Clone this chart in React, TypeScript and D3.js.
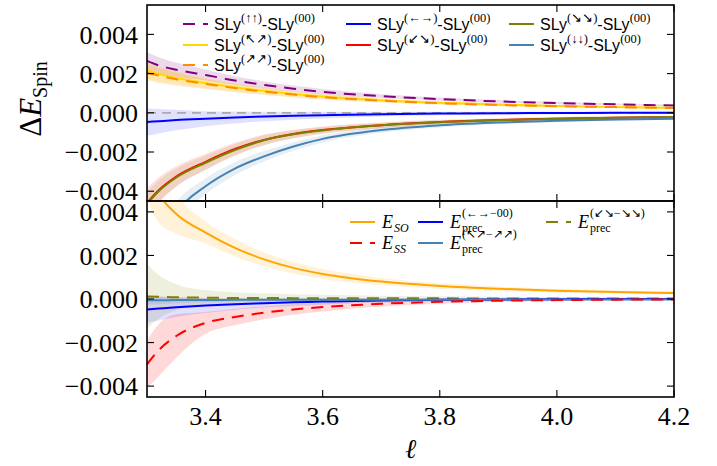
import React from "react";
import * as d3 from "d3";

// shared ℓ grid
const ELL = [3.3, 3.32, 3.35, 3.4, 3.45, 3.5, 3.55, 3.6, 3.7, 3.8, 3.9, 4.0, 4.1, 4.2];

// ---- top panel values (units of 1e-3) ----
const upUp = [2.65, 2.42, 2.2, 1.93, 1.65, 1.42, 1.23, 1.07, 0.85, 0.7, 0.58, 0.5, 0.43, 0.37];
const upUpErr = [0.45, 0.42, 0.36, 0.28, 0.22, 0.18, 0.16, 0.14, 0.1, 0.08, 0.07, 0.06, 0.05, 0.05];
const nwNe = [2.15, 1.98, 1.78, 1.52, 1.3, 1.12, 0.96, 0.83, 0.64, 0.51, 0.42, 0.35, 0.3, 0.26];
const nwNeErr = [0.42, 0.4, 0.34, 0.27, 0.22, 0.18, 0.15, 0.13, 0.1, 0.08, 0.07, 0.06, 0.05, 0.05];
const neNe = [2.05, 1.9, 1.71, 1.47, 1.26, 1.08, 0.93, 0.8, 0.62, 0.49, 0.4, 0.34, 0.29, 0.25];
const neNeErr = [0.4, 0.38, 0.33, 0.26, 0.21, 0.17, 0.15, 0.13, 0.1, 0.08, 0.07, 0.06, 0.05, 0.05];
const lr = [-0.47, -0.43, -0.37, -0.3, -0.24, -0.19, -0.15, -0.12, -0.07, -0.04, -0.02, -0.01, 0.0, 0.0];
const lrErr = [0.7, 0.62, 0.52, 0.38, 0.3, 0.24, 0.2, 0.17, 0.12, 0.09, 0.07, 0.06, 0.05, 0.05];
const swSe = [-4.6, -3.95, -3.25, -2.5, -1.85, -1.38, -1.08, -0.88, -0.63, -0.47, -0.37, -0.3, -0.25, -0.21];
const swSeErr = [0.75, 0.65, 0.52, 0.4, 0.32, 0.27, 0.22, 0.18, 0.14, 0.11, 0.09, 0.08, 0.07, 0.06];
const seSe = [-4.65, -4.0, -3.3, -2.55, -1.9, -1.4, -1.1, -0.9, -0.64, -0.48, -0.38, -0.3, -0.25, -0.21];
const seSeErr = [0.6, 0.55, 0.45, 0.36, 0.3, 0.25, 0.2, 0.17, 0.13, 0.1, 0.08, 0.07, 0.06, 0.05];
const dnDn = [-7.8, -6.5, -5.05, -3.75, -2.85, -2.22, -1.72, -1.33, -0.88, -0.64, -0.5, -0.4, -0.34, -0.3];
const dnDnErr = [0.6, 0.55, 0.5, 0.4, 0.33, 0.27, 0.22, 0.18, 0.14, 0.11, 0.09, 0.08, 0.07, 0.06];

// ---- bottom panel values (units of 1e-3) ----
const eSO = [5.8, 4.8, 3.9, 3.05, 2.35, 1.82, 1.43, 1.15, 0.8, 0.6, 0.47, 0.38, 0.32, 0.27];
const eSOErr = [1.2, 1.3, 0.9, 0.5, 0.4, 0.32, 0.27, 0.23, 0.17, 0.13, 0.1, 0.08, 0.07, 0.06];
const eSS = [-3.0, -2.35, -1.7, -1.1, -0.83, -0.63, -0.48, -0.37, -0.22, -0.13, -0.08, -0.05, -0.03, -0.02];
const eSSErr = [1.1, 1.2, 1.0, 0.5, 0.38, 0.3, 0.24, 0.2, 0.13, 0.09, 0.06, 0.05, 0.04, 0.03];
const ePrecLR = [-0.48, -0.44, -0.38, -0.3, -0.24, -0.19, -0.15, -0.12, -0.07, -0.04, -0.02, -0.01, 0.0, 0.0];
const ePrecLRErr = [0.62, 0.55, 0.45, 0.34, 0.26, 0.2, 0.17, 0.14, 0.1, 0.08, 0.06, 0.05, 0.04, 0.04];
const ePrecNW = [-0.06, -0.06, -0.05, -0.05, -0.04, -0.04, -0.04, -0.03, -0.03, -0.03, -0.02, -0.02, -0.02, -0.02];
const ePrecNWErr = [0.2, 0.18, 0.15, 0.1, 0.08, 0.07, 0.06, 0.05, 0.04, 0.04, 0.03, 0.03, 0.03, 0.03];
const ePrecSW = [0.12, 0.1, 0.08, 0.06, 0.05, 0.05, 0.04, 0.04, 0.03, 0.03, 0.02, 0.02, 0.02, 0.02];
const ePrecSWErr = [1.5, 1.0, 0.6, 0.35, 0.26, 0.21, 0.18, 0.15, 0.12, 0.1, 0.08, 0.07, 0.06, 0.05];

// axis ticks
const xTicks = [3.4, 3.6, 3.8, 4.0, 4.2];
const yTicks = [-0.004, -0.002, 0.0, 0.002, 0.004];

const topLegend = [
  { sup: "(↑↑)", color: "#800080", dash: true, col: 0, row: 0 },
  { sup: "(↖↗)", color: "#FFD700", dash: false, col: 0, row: 1 },
  { sup: "(↗↗)", color: "#FF8C00", dash: true, col: 0, row: 2 },
  { sup: "(←→)", color: "#0000FF", dash: false, col: 1, row: 0 },
  { sup: "(↙↘)", color: "#FF0000", dash: false, col: 1, row: 1 },
  { sup: "(↘↘)", color: "#808000", dash: false, col: 2, row: 0 },
  { sup: "(↓↓)", color: "#4682B4", dash: false, col: 2, row: 1 },
];

const botLegend = [
  { sub: "SO", sup: "", color: "#FFA500", dash: false, col: 0, row: 0 },
  { sub: "SS", sup: "", color: "#FF0000", dash: true, col: 0, row: 1 },
  { sub: "prec", sup: "(←→−00)", color: "#0000FF", dash: false, col: 1, row: 0 },
  { sub: "prec", sup: "(↖↗−↗↗)", color: "#4682B4", dash: false, col: 1, row: 1 },
  { sub: "prec", sup: "(↙↘−↘↘)", color: "#808000", dash: true, col: 2, row: 0 },
];

const W = 717, H = 466;
const L = 147, R = 674;
const T1 = 5, B1 = 201, T2 = 201, B2 = 397;

const x = d3.scaleLinear().domain([3.3, 4.2]).range([L, R]);
const yTop = d3.scaleLinear().domain([-0.0045, 0.0055]).range([B1, T1]);
const yBot = d3.scaleLinear().domain([-0.0045, 0.0045]).range([B2, T2]);

const SERIF = "Liberation Serif, Times New Roman, serif";
const SANS = "Liberation Sans, Arial, sans-serif";
const DASH = "12,8";

type S = { mid: number[]; err: number[]; color: string; dash?: boolean; bandOp: number };

const topSeries: S[] = [
  { mid: upUp, err: upUpErr, color: "#800080", dash: true, bandOp: 0.15 },
  { mid: nwNe, err: nwNeErr, color: "#FFD700", bandOp: 0.2 },
  { mid: neNe, err: neNeErr, color: "#FF8C00", dash: true, bandOp: 0.15 },
  { mid: lr, err: lrErr, color: "#0000FF", bandOp: 0.12 },
  { mid: swSe, err: swSeErr, color: "#FF0000", bandOp: 0.13 },
  { mid: seSe, err: seSeErr, color: "#808000", bandOp: 0.13 },
  { mid: dnDn, err: dnDnErr, color: "#4682B4", bandOp: 0.13 },
];

const botSeries: S[] = [
  { mid: eSO, err: eSOErr, color: "#FFA500", bandOp: 0.15 },
  { mid: ePrecSW, err: ePrecSWErr, color: "#808000", dash: true, bandOp: 0.13 },
  { mid: ePrecLR, err: ePrecLRErr, color: "#0000FF", bandOp: 0.12 },
  { mid: ePrecNW, err: ePrecNWErr, color: "#4682B4", bandOp: 0.15 },
  { mid: eSS, err: eSSErr, color: "#FF0000", dash: true, bandOp: 0.15 },
];

function Panel({ series, y, top, bottom, id, zeroLine }: { series: S[]; y: d3.ScaleLinear<number, number>; top: number; bottom: number; id: string; zeroLine?: boolean }) {
  const line = (m: number[]) =>
    d3.line<number>().x((_, i) => x(ELL[i])).y((d) => y(d * 1e-3)).curve(d3.curveMonotoneX)(m) || "";
  const area = (m: number[], e: number[]) =>
    d3
      .area<number>()
      .x((_, i) => x(ELL[i]))
      .y0((d, i) => y((d - e[i]) * 1e-3))
      .y1((d, i) => y((d + e[i]) * 1e-3))
      .curve(d3.curveMonotoneX)(m) || "";
  return (
    <g>
      <defs>
        <clipPath id={id}>
          <rect x={L} y={top} width={R - L} height={bottom - top} />
        </clipPath>
      </defs>
      <g clipPath={`url(#${id})`}>
        {series.map((s, i) => (
          <path key={"a" + i} d={area(s.mid, s.err)} fill={s.color} fillOpacity={s.bandOp} stroke="none" />
        ))}
        {zeroLine && (
          <line x1={L} x2={R} y1={y(0)} y2={y(0)} stroke="#aaaaaa" strokeWidth={1.8} strokeDasharray="9,6" />
        )}
        {series.map((s, i) => (
          <path key={"l" + i} d={line(s.mid)} fill="none" stroke={s.color} strokeWidth={2} strokeDasharray={s.dash ? DASH : undefined} />
        ))}
      </g>
      {xTicks.map((t) => (
        <g key={"xt" + t}>
          <line x1={x(t)} x2={x(t)} y1={bottom} y2={bottom - 7} stroke="#000" strokeWidth={1.1} />
          <line x1={x(t)} x2={x(t)} y1={top} y2={top + 7} stroke="#000" strokeWidth={1.1} />
        </g>
      ))}
      {yTicks.map((t) => (
        <g key={"yt" + t}>
          <line x1={L} x2={L + 7} y1={y(t)} y2={y(t)} stroke="#000" strokeWidth={1.1} />
          <line x1={R} x2={R - 7} y1={y(t)} y2={y(t)} stroke="#000" strokeWidth={1.1} />
          <text x={138} y={y(t)} dy="0.35em" textAnchor="end" fontFamily={SERIF} fontSize={26}>
            {d3.format(".3f")(t).replace("-", "\u2212")}
          </text>
        </g>
      ))}
      <rect x={L} y={top} width={R - L} height={bottom - top} fill="none" stroke="#000" strokeWidth={1.6} />
    </g>
  );
}

function Handle({ x0, yy, color, dash }: { x0: number; yy: number; color: string; dash?: boolean }) {
  return <line x1={x0} x2={x0 + 25} y1={yy} y2={yy} stroke={color} strokeWidth={2} strokeDasharray={dash ? DASH : undefined} />;
}

export default function App() {
  const colX = [183, 346, 509];
  const rowY = [24, 45, 65];
  const bColX = [350, 418, 546];
  const bRow = [222, 243];
  return (
    <svg width={W} height={H} style={{ position: "absolute", left: 0, top: 0, background: "#fff" }}>
      <rect width={W} height={H} fill="#fff" />
      <Panel series={topSeries} y={yTop} top={T1} bottom={B1} id="clipTop" zeroLine />
      <Panel series={botSeries} y={yBot} top={T2} bottom={B2} id="clipBot" />

      {xTicks.map((t) => (
        <text key={"xl" + t} x={x(t)} y={425} textAnchor="middle" fontFamily={SERIF} fontSize={26}>
          {t.toFixed(1)}
        </text>
      ))}
      <text x={(L + R) / 2} y={458} textAnchor="middle" fontFamily={SERIF} fontStyle="italic" fontSize={27}>
        ℓ
      </text>
      <text transform="translate(41,99) rotate(-90)" textAnchor="middle" fontFamily={SERIF} fontSize={31}>
        <tspan>Δ</tspan>
        <tspan fontStyle="italic">E</tspan>
        <tspan fontSize={20} dy={6}>Spin</tspan>
      </text>

      {topLegend.map((e, i) => (
        <g key={"tl" + i}>
          <Handle x0={colX[e.col]} yy={rowY[e.row]} color={e.color} dash={e.dash} />
          <text x={colX[e.col] + 31} y={rowY[e.row] + 6} fontFamily={SANS} fontSize={16}>
            <tspan>SLy</tspan>
            <tspan fontFamily={SERIF} fontSize={12.5} dy={-8}>{e.sup}</tspan>
            <tspan dy={8}>-SLy</tspan>
            <tspan fontFamily={SERIF} fontSize={12.5} dy={-8}>(00)</tspan>
          </text>
        </g>
      ))}

      {botLegend.map((e, i) => {
        const x0 = bColX[e.col];
        const yy = bRow[e.row];
        return (
          <g key={"bl" + i}>
            <Handle x0={x0} yy={yy} color={e.color} dash={e.dash} />
            <text x={x0 + 32} y={yy + 6} fontFamily={SERIF} fontSize={18} fontStyle="italic">E</text>
            {e.sup ? (
              <>
                <text x={x0 + 44} y={yy - 5} fontFamily={SERIF} fontSize={12}>{e.sup}</text>
                <text x={x0 + 44} y={yy + 10} fontFamily={SERIF} fontSize={12}>{e.sub}</text>
              </>
            ) : (
              <text x={x0 + 44} y={yy + 10} fontFamily={SERIF} fontSize={12} fontStyle="italic">{e.sub}</text>
            )}
          </g>
        );
      })}
    </svg>
  );
}
